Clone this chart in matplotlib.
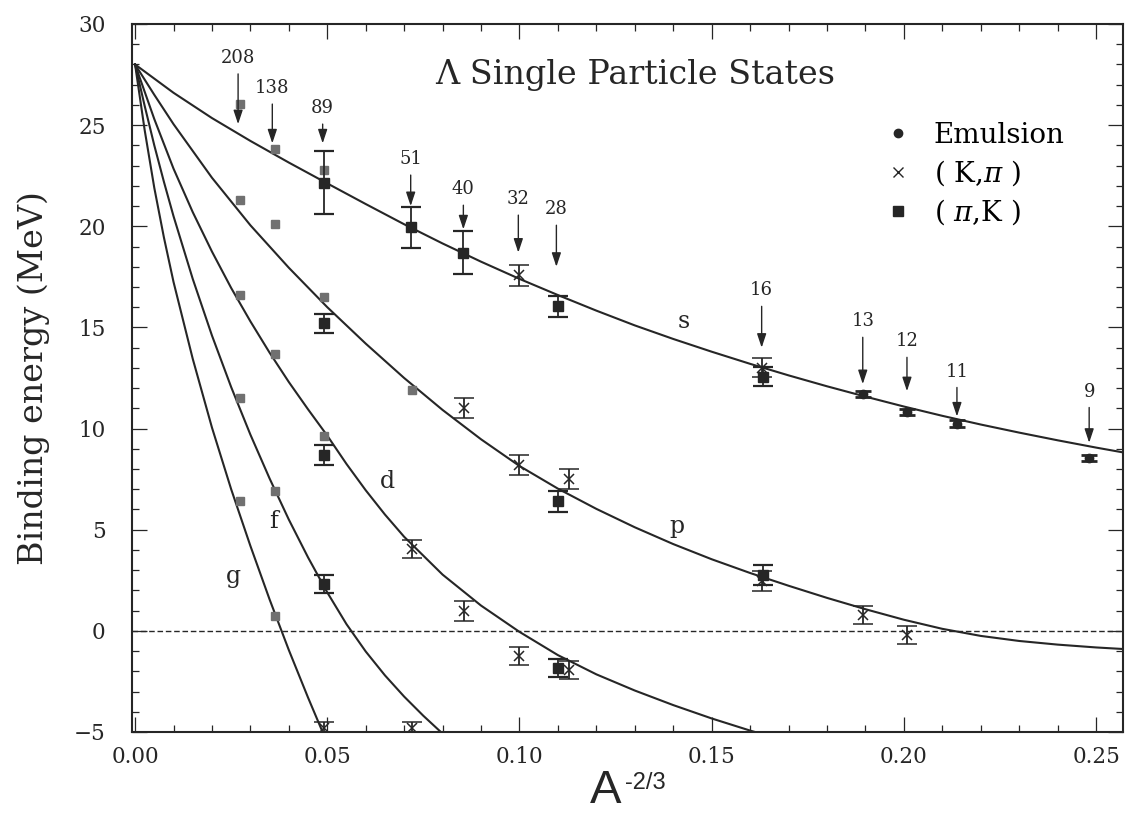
import matplotlib
matplotlib.use('Agg')
import matplotlib.pyplot as plt
from matplotlib.lines import Line2D
from matplotlib.ticker import MultipleLocator, FormatStrFormatter

plt.rcParams['font.family'] = ['DejaVu Serif']
plt.rcParams['mathtext.fontset'] = 'dejavuserif'

INK = '#262626'
GRAY = '#707070'

# ---- theory curves ----
s_x = [0.00, 0.005, 0.01, 0.02, 0.03, 0.04, 0.05, 0.06, 0.07, 0.08, 0.09, 0.10, 0.11, 0.12,
       0.13, 0.14, 0.15, 0.16, 0.17, 0.18, 0.19, 0.20, 0.21, 0.22, 0.23, 0.24, 0.25, 0.26]
s_y = [28.0, 27.3, 26.6, 25.35, 24.22, 23.15, 22.12, 21.1, 20.1, 19.15, 18.25, 17.4, 16.6, 15.83,
       15.1, 14.43, 13.8, 13.2, 12.63, 12.09, 11.58, 11.09, 10.63, 10.2, 9.8, 9.42, 9.06, 8.72]

p_x = [0.00, 0.005, 0.01, 0.02, 0.03, 0.04, 0.05, 0.06, 0.07, 0.08, 0.09, 0.10, 0.11, 0.12,
       0.13, 0.14, 0.15, 0.16, 0.17, 0.18, 0.19, 0.20, 0.21, 0.22, 0.23, 0.24, 0.25, 0.26]
p_y = [28.0, 26.5, 25.05, 22.4, 20.05, 17.95, 16.0, 14.2, 12.5, 10.92, 9.47, 8.15, 7.03, 6.03,
       5.12, 4.29, 3.54, 2.86, 2.23, 1.63, 1.07, 0.55, 0.1, -0.25, -0.5, -0.68, -0.82, -0.93]

d_x = [0.00, 0.005, 0.01, 0.015, 0.02, 0.025, 0.03, 0.035, 0.04, 0.045, 0.05, 0.055, 0.06,
       0.065, 0.07, 0.08, 0.09, 0.10, 0.11, 0.12, 0.13, 0.14, 0.15, 0.16, 0.17]
d_y = [28.0, 25.3, 22.85, 20.7, 18.75, 16.95, 15.3, 13.75, 12.3, 10.95, 9.65, 8.25, 6.95,
       5.75, 4.65, 2.78, 1.25, -0.05, -1.2, -2.15, -2.95, -3.67, -4.33, -4.93, -5.48]

f_x = [0.00, 0.0025, 0.005, 0.0075, 0.01, 0.015, 0.02, 0.025, 0.03, 0.035, 0.04, 0.045, 0.05,
       0.055, 0.06, 0.065, 0.07, 0.075, 0.08, 0.085]
f_y = [28.0, 25.95, 24.0, 22.2, 20.5, 17.4, 14.6, 12.05, 9.7, 7.53, 5.5, 3.63, 1.9,
       0.33, -1.02, -2.2, -3.25, -4.2, -5.08, -5.9]

g_x = [0.00, 0.0025, 0.005, 0.0075, 0.01, 0.015, 0.02, 0.025, 0.03, 0.035, 0.04, 0.045, 0.05]
g_y = [28.0, 24.75, 21.9, 19.45, 17.25, 13.45, 10.05, 7.0, 4.2, 1.55, -0.95, -3.3, -5.55]

curve_names = ['s', 'p', 'd', 'f', 'g']
curve_label_x = [0.1427, 0.141, 0.0656, 0.0359, 0.0255]
curve_label_y = [15.3, 5.15, 7.38, 5.4, 2.67]

# ---- data points ----
emu_x = [0.1893, 0.2008, 0.2138, 0.2482]
emu_y = [11.73, 10.84, 10.25, 8.56]
emu_err = [0.15, 0.15, 0.15, 0.15]

kpi_x = [0.1000, 0.0856, 0.1000, 0.1128, 0.0721, 0.0856, 0.1000, 0.1128, 0.0721, 0.0492,
         0.1630, 0.1630, 0.1893, 0.2008]
kpi_y = [17.57, 11.0, 8.2, 7.5, 4.05, 1.0, -1.25, -1.95, -4.8, -4.8,
         13.0, 2.45, 0.8, -0.2]
kpi_err = [0.5, 0.5, 0.5, 0.5, 0.45, 0.5, 0.45, 0.45, 0.3, 0.3,
           0.47, 0.5, 0.45, 0.45]

pik_x = [0.0492, 0.0492, 0.0492, 0.0492, 0.0719, 0.0854, 0.1100, 0.1100, 0.1100, 0.1633, 0.1633]
pik_y = [22.15, 15.2, 8.7, 2.33, 19.95, 18.7, 16.04, 6.4, -1.83, 12.57, 2.75]
pik_err = [1.55, 0.47, 0.5, 0.45, 1.0, 1.07, 0.5, 0.5, 0.45, 0.45, 0.5]

pik_gray_x = [0.0272, 0.0272, 0.0272, 0.0272, 0.0272, 0.0365, 0.0365, 0.0365, 0.0365, 0.0365,
              0.0492, 0.0492, 0.0492, 0.0721]
pik_gray_y = [26.04, 21.3, 16.58, 11.53, 6.4, 23.8, 20.1, 13.71, 6.93, 0.74,
              22.8, 16.49, 9.65, 11.9]

# mass-number arrows
A_labels = ['208', '138', '89', '51', '40', '32', '28', '16', '13', '12', '11', '9']
A_x = [0.0268, 0.0357, 0.0488, 0.0717, 0.0854, 0.0997, 0.1096, 0.1630, 0.1893, 0.2008, 0.2138, 0.2482]
A_label_y = [28.32, 26.83, 25.84, 23.32, 21.83, 21.34, 20.84, 16.83, 15.30, 14.31, 12.82, 11.83]
A_tip_y = [25.05, 24.1, 24.1, 21.0, 19.85, 18.7, 18.0, 14.0, 12.2, 11.85, 10.6, 9.3]

x_ticks = [0.00, 0.05, 0.10, 0.15, 0.20, 0.25]
y_ticks = [-5, 0, 5, 10, 15, 20, 25, 30]

# ---- figure ----
fig = plt.figure(figsize=(11.26, 8.19), dpi=100)
ax = fig.add_axes([132 / 1126, 1 - 732 / 819, 991 / 1126, 708 / 819])
ax.set_xlim(-0.0008, 0.257)
ax.set_ylim(-5, 30)

ax.axhline(0, color=INK, lw=1.0, ls=(0, (4, 2)), zorder=1)

for cx, cy in [(s_x, s_y), (p_x, p_y), (d_x, d_y), (f_x, f_y), (g_x, g_y)]:
    ax.plot(cx, cy, color=INK, lw=1.5, zorder=2, solid_joinstyle='round')

for name, lx, ly in zip(curve_names, curve_label_x, curve_label_y):
    ax.text(lx, ly, name, fontsize=17, ha='center', va='center', color=INK)

ax.plot(pik_gray_x, pik_gray_y, ls='none', marker='s', ms=6, color=GRAY, zorder=3)

ax.errorbar(pik_x, pik_y, yerr=pik_err, fmt='s', ms=7.5, color=INK, ecolor=INK,
            elinewidth=1.3, capsize=7, capthick=1.6, zorder=4)
ax.errorbar(kpi_x, kpi_y, yerr=kpi_err, fmt='x', ms=7, mew=1.1, color=INK, ecolor=INK,
            elinewidth=1.3, capsize=7.5, capthick=1.6, zorder=4)
ax.errorbar(emu_x, emu_y, yerr=emu_err, fmt='o', ms=6, color=INK, ecolor=INK,
            elinewidth=1.3, capsize=6, capthick=2.0, zorder=4)

for lab, x, ly, ty in zip(A_labels, A_x, A_label_y, A_tip_y):
    ax.annotate(lab, xy=(x, ty), xytext=(x, ly), ha='center', va='center', fontsize=13,
                color=INK,
                arrowprops=dict(arrowstyle='-|>,head_length=0.6,head_width=0.2',
                                mutation_scale=14, color=INK, lw=1.0,
                                shrinkA=3, shrinkB=0))

ax.text(0.130, 27.5, '\u039b Single Particle States', fontsize=24, ha='center', va='center',
        color=INK)

handles = [Line2D([], [], ls='none', marker='o', ms=6, color=INK),
           Line2D([], [], ls='none', marker='x', ms=7, mew=1.0, color=INK),
           Line2D([], [], ls='none', marker='s', ms=6.5, color=INK)]
ax.legend(handles, ['Emulsion', '( K,$\\pi$ )', '( $\\pi$,K )'], loc='upper left',
          bbox_to_anchor=(0.759, 0.8616), frameon=False, fontsize=20, handlelength=1.0,
          handletextpad=0.78, labelspacing=0.33, borderpad=0, borderaxespad=0)

# axes styling
ax.xaxis.set_major_locator(MultipleLocator(0.05))
ax.xaxis.set_minor_locator(MultipleLocator(0.01))
ax.yaxis.set_major_locator(MultipleLocator(5))
ax.yaxis.set_minor_locator(MultipleLocator(1))
ax.set_xticks(x_ticks)
ax.set_yticks(y_ticks)
ax.xaxis.set_major_formatter(FormatStrFormatter('%.2f'))
ax.tick_params(which='both', direction='in', top=True, right=True, color=INK, width=0.9,
               labelcolor=INK)
ax.tick_params(which='major', length=11, labelsize=15.5)
ax.tick_params(which='minor', length=5)
ax.tick_params(axis='x', which='major', pad=10)
ax.tick_params(axis='y', which='major', pad=19)
for sp in ax.spines.values():
    sp.set_linewidth(1.5)
    sp.set_color(INK)

ax.set_ylabel('Binding energy (MeV)', fontsize=24, color=INK)
ax.yaxis.set_label_coords(-0.083, 0.5)
ax.set_xlabel('A', fontfamily='Liberation Sans', fontsize=34, color=INK)
ax.xaxis.set_label_coords((606 - 132) / 991, -0.052)
fig.text(625 / 1126, 1 - 772 / 819, '-2/3', fontfamily='Liberation Sans', fontsize=17,
         ha='left', va='top', color=INK)

fig.savefig('out.png', dpi=100)
